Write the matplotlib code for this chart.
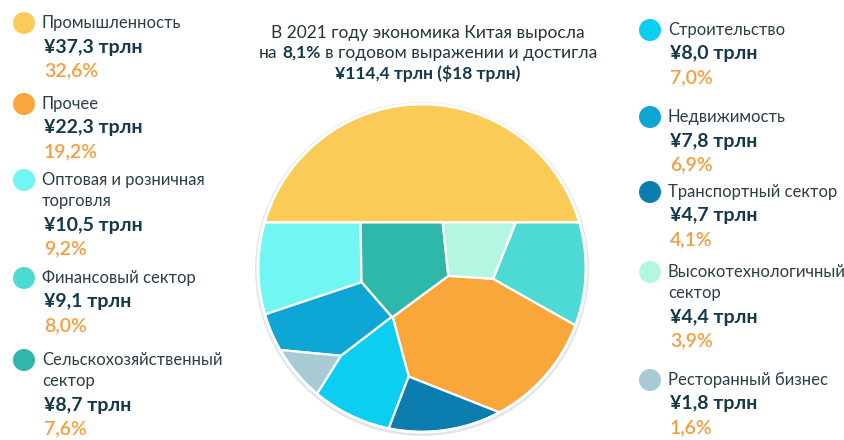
import numpy as np
import matplotlib.pyplot as plt
from matplotlib.patches import Polygon, Circle

plt.rcParams['font.family'] = ['Lato', 'DejaVu Sans']

# data (trln yuan, 2021)
sectors = ["Промышленность", "Прочее", "Оптовая и розничная\nторговля",
           "Финансовый сектор", "Сельскохозяйственный\nсектор",
           "Строительство", "Недвижимость", "Транспортный сектор",
           "Высокотехнологичный\nсектор", "Ресторанный бизнес"]
values = [37.3, 22.3, 10.5, 9.1, 8.7, 8.0, 7.8, 4.7, 4.4, 1.8]
shares = ["32,6%", "19,2%", "9,2%", "8,0%", "7,6%", "7,0%", "6,9%", "4,1%", "3,9%", "1,6%"]
value_labels = ["¥37,3 трлн", "¥22,3 трлн", "¥10,5 трлн", "¥9,1 трлн", "¥8,7 трлн",
                "¥8,0 трлн", "¥7,8 трлн", "¥4,7 трлн", "¥4,4 трлн", "¥1,8 трлн"]
colors = ["#FBCB57", "#F9A63B", "#70F6F3", "#4EDAD4", "#2DB8AA",
          "#0BCEF1", "#0DA6D5", "#0B7DAE", "#B4F6E1", "#A7CAD4"]

# layout: generator sites (unit circle) for the cells under the top segment
sites = [(0.40, -0.62), (-0.74, 0.05), (0.75, 0.0), (-0.104, 0.061),
         (-0.27, -0.80), (-0.60, -0.37), (0.25, -1.0), (0.45, 0.12),
         (-0.62, -0.58)]


def clip(poly, a, b):
    if len(poly) == 0:
        return poly
    f = poly @ a - b
    q = np.roll(poly, -1, axis=0)
    fq = np.roll(f, -1)
    inside = f <= 0
    cross = (f <= 0) != (fq <= 0)
    t = np.where(cross, f / np.where(cross, f - fq, 1.0), 0.0)
    inter = poly + t[:, None] * (q - poly)
    pts = np.stack([poly, inter], axis=1).reshape(-1, 2)
    mask = np.stack([inside, cross], axis=1).reshape(-1)
    return pts[mask]


def area(poly):
    if len(poly) < 3:
        return 0.0
    x, y = poly[:, 0], poly[:, 1]
    return 0.5 * abs(np.dot(x, np.roll(y, -1)) - np.dot(y, np.roll(x, -1)))


def power_cells(P, w, region):
    cells = []
    for i in range(len(P)):
        poly = region
        for j in range(len(P)):
            if i == j:
                continue
            a = 2 * (P[j] - P[i])
            b = P[j] @ P[j] - P[i] @ P[i] - w[j] + w[i]
            poly = clip(poly, a, b)
        cells.append(poly)
    return cells


vals = np.array(values)
frac = vals / vals.sum()

# top segment height from its share
lo, hi = -1.0, 1.0
for _ in range(60):
    d = (lo + hi) / 2
    seg = np.arccos(d) - d * np.sqrt(1 - d * d)
    if seg / np.pi > frac[0]:
        lo = d
    else:
        hi = d
d = (lo + hi) / 2
th = np.arcsin(d)
ang = np.linspace(th, -np.pi - th, 240)
region = np.column_stack([np.cos(ang), np.sin(ang)])
ang_top = np.linspace(th, np.pi - th, 200)
top = np.column_stack([np.cos(ang_top), np.sin(ang_top)])

P = np.array(sites)
target = frac[1:] * np.pi
w = np.zeros(len(P))
for _ in range(1500):
    cells = power_cells(P, w, region)
    areas = np.array([area(c) for c in cells])
    w += 0.2 * (target - areas)
cells = power_cells(P, w, region)

fig = plt.figure(figsize=(8.45, 4.4), dpi=100)
fig.patch.set_facecolor("white")

ax = fig.add_axes([0, 0, 1, 1])
ax.set_xlim(0, 845)
ax.set_ylim(440, 0)
ax.axis("off")

# circle (center 422,268 px, radius 164 px)
cx, cy, R = 422, 268, 164
pad = 1.04
ax2 = fig.add_axes([(cx - R * pad) / 845, (440 - cy - R * pad) / 440,
                    2 * R * pad / 845, 2 * R * pad / 440])
ax2.set_xlim(-pad, pad)
ax2.set_ylim(-pad, pad)
ax2.set_aspect("equal")
ax2.axis("off")

ax2.add_patch(Circle((0, -0.006), 1.018, facecolor="#dfe6ea", edgecolor="none", zorder=0))
ax2.add_patch(Polygon(top, closed=True, facecolor=colors[0], edgecolor="white", lw=1.6, zorder=2))
for k, c in enumerate(cells):
    if len(c) >= 3:
        ax2.add_patch(Polygon(c, closed=True, facecolor=colors[k + 1],
                              edgecolor="white", lw=1.6, zorder=2))
ax2.add_patch(Circle((0, 0), 1.0, facecolor="none", edgecolor="white", lw=2, zorder=3))

# legend
label_c, value_c, pct_c = "#2C3E46", "#15384A", "#F59E3F"
left_y = [23, 104, 180, 278, 360]
right_y = [30, 117, 192, 272, 380]
entries = [(24, 42, y, i) for i, y in enumerate(left_y)] + \
          [(650, 668, y, i + 5) for i, y in enumerate(right_y)]
for mx, tx, y, i in entries:
    ax.add_patch(Circle((mx, y), 11, facecolor=colors[i], edgecolor="none"))
    lines = sectors[i].split("\n")
    for li, line in enumerate(lines):
        ax.text(tx, y + 21 * li, line, fontsize=12, color=label_c, va="center", ha="left")
    yv = y + 21 * (len(lines) - 1) + 24
    ax.text(tx + 2, yv, value_labels[i], fontsize=14, fontweight="bold",
            color=value_c, va="center", ha="left")
    ax.text(tx + 2, yv + 24, shares[i], fontsize=14, fontweight="semibold",
            color=pct_c, va="center", ha="left")

# title
tc = "#22343C"
fs = 12.5
ax.text(428, 33, "В 2021 году экономика Китая выросла", fontsize=fs,
        color=tc, ha="center", va="center")
r = fig.canvas.get_renderer()
parts = [("на", "normal"), ("8,1%", "bold"), ("в годовом выражении и достигла", "normal")]
tmp = ax.text(0, 0, "н н", fontsize=fs)
w2 = tmp.get_window_extent(r).width
tmp.set_text("нн")
sp = w2 - tmp.get_window_extent(r).width
tmp.remove()
arts = [ax.text(0, 53, s, fontsize=fs, fontweight=fw, color=tc if fw == "normal" else value_c,
                ha="left", va="center") for s, fw in parts]
widths = [a.get_window_extent(r).width for a in arts]
x0 = 428 - (sum(widths) + sp * (len(arts) - 1)) / 2
for a, wd in zip(arts, widths):
    a.set_x(x0)
    x0 += wd + sp
ax.text(428, 73, "¥114,4 трлн (\\$18 трлн)", fontsize=fs, fontweight="bold",
        color=value_c, ha="center", va="center")

fig.savefig("out.png", dpi=100, facecolor="white")
